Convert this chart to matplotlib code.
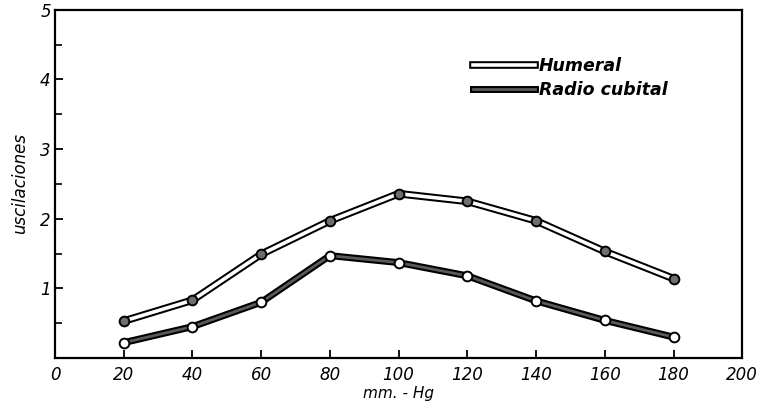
import matplotlib.pyplot as plt
from matplotlib.legend_handler import HandlerTuple
from matplotlib.lines import Line2D

# presion (mm Hg) vs oscilaciones
presion = [20, 40, 60, 80, 100, 120, 140, 160, 180]
humeral = [0.53, 0.83, 1.49, 1.97, 2.36, 2.25, 1.97, 1.53, 1.14]
radio_cubital = [0.22, 0.45, 0.80, 1.47, 1.37, 1.18, 0.82, 0.54, 0.30]

x_ticks = [0, 20, 40, 60, 80, 100, 120, 140, 160, 180, 200]
y_ticks = [1, 2, 3, 4, 5]

plt.rcParams["font.family"] = ["DejaVu Sans"]
plt.rcParams["font.style"] = "italic"

fig = plt.figure(figsize=(7.67, 4.11), dpi=100)
ax = fig.add_axes([0.0717, 0.129, 0.896, 0.847])

# double-line look: thick black stroke, lighter core on top
ax.plot(presion, humeral, color="black", lw=5.5, solid_capstyle="round", zorder=2)
ax.plot(presion, humeral, color="white", lw=2.6, solid_capstyle="round", zorder=3)
ax.plot(presion, humeral, ls="none", marker="o", ms=7, mfc="#6e6e6e",
        mec="black", mew=1.4, zorder=4)

ax.plot(presion, radio_cubital, color="black", lw=5, solid_capstyle="round", zorder=2)
ax.plot(presion, radio_cubital, color="#5a5a5a", lw=2, solid_capstyle="round", zorder=3)
ax.plot(presion, radio_cubital, ls="none", marker="o", ms=7, mfc="white",
        mec="black", mew=1.4, zorder=4)

h_hum = (Line2D([], [], color="black", lw=5.5),
         Line2D([], [], color="white", lw=2.6))
h_rad = (Line2D([], [], color="black", lw=5),
         Line2D([], [], color="#5a5a5a", lw=2))
leg = ax.legend([h_hum, h_rad], ["Humeral", "Radio cubital"],
                handler_map={tuple: HandlerTuple(ndivide=1, pad=0)},
                loc="upper left", bbox_to_anchor=(0.585, 0.91),
                frameon=False, fontsize=12.5, handlelength=3.6,
                handletextpad=0.2, labelspacing=0.35)
for t in leg.get_texts():
    t.set_fontweight("bold")

ax.set_xlim(0, 200)
ax.set_ylim(0, 5)
ax.set_xticks(x_ticks)
ax.set_yticks(y_ticks)
ax.set_yticks([0.5, 1.5, 2.5, 3.5, 4.5], minor=True)
ax.tick_params(axis="both", direction="in", length=6, width=1.3,
               labelsize=12, pad=6)
ax.tick_params(axis="y", which="minor", direction="in", length=5, width=1.2)
ax.tick_params(axis="y", pad=3)
for t in ax.get_xticklabels() + ax.get_yticklabels():
    t.set_fontstyle("italic")

for side in ax.spines.values():
    side.set_linewidth(1.6)

ax.set_xlabel("mm. - Hg", fontsize=11, labelpad=1)
ax.set_ylabel("uscilaciones", fontsize=12, labelpad=8)

fig.savefig("out.png", dpi=100)
